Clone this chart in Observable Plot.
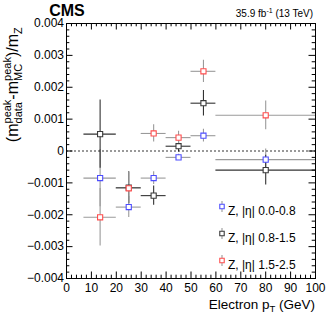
<!DOCTYPE html>
<html><head><meta charset="utf-8">
<script src="https://cdn.jsdelivr.net/npm/d3@7"></script>
<script src="https://cdn.jsdelivr.net/npm/@observablehq/plot@0.6"></script>
<style>body{margin:0;background:#fff} svg{display:block}</style>
</head><body><div id="chart"></div>
<script>
// ---- data ----
const binLo = [7, 20, 30, 40, 50, 60];
const binHi = [20, 30, 40, 50, 60, 100];
const binCenter = [13.5, 25, 35, 45, 55, 80];
const seriesNames = ["Z, |η| 0.0-0.8", "Z, |η| 0.8-1.5", "Z, |η| 1.5-2.5"];
const valEta0008 = [-0.00085, -0.00176, -0.00085, -0.0002, 0.00048, -0.00027];
const errEta0008 = [0.0009, 0.00033, 0.0002, 0.0001, 0.0002, 0.00033];
const valEta0815 = [0.00053, -0.00115, -0.0014, 0.00015, 0.0015, -0.0006];
const errEta0815 = [0.00107, 0.0005, 0.0003, 0.00018, 0.0004, 0.00047];
const valEta1525 = [-0.00208, -0.00117, 0.00055, 0.00042, 0.0025, 0.00112];
const errEta1525 = [0.0009, 0.0005, 0.00027, 0.0002, 0.00035, 0.00045];
const xTicks = [0, 10, 20, 30, 40, 50, 60, 70, 80, 90, 100];
const xTickLabels = ["0", "10", "20", "30", "40", "50", "60", "70", "80", "90", "100"];
const yTicks = [-0.004, -0.003, -0.002, -0.001, 0, 0.001, 0.002, 0.003, 0.004];
const yTickLabels = ["\u22120.004", "\u22120.003", "\u22120.002", "\u22120.001", "0", "0.001", "0.002", "0.003", "0.004"];

const markerColors = ["#4d4dff", "#3a3a3a", "#ff4d4d"];
const barColors = ["#9a9a9a", "#333333", "#9a9a9a"];

const W = 332, H = 322, mL = 66, mR = 17, mT = 23, mB = 44;
const xMin = 0, xMax = 100, yMin = -0.004, yMax = 0.004;
const gevPerPx = (xMax - xMin) / (W - mL - mR);
const unitPerPx = (yMax - yMin) / (H - mT - mB);

const vals = [valEta0008, valEta0815, valEta1525];
const errs = [errEta0008, errEta0815, errEta1525];
const rows = [];
vals.forEach((v, s) => v.forEach((y, i) => rows.push({
  s, x: binCenter[i], lo: binLo[i], hi: binHi[i], y, e: errs[s][i]
})));

const isMajor = (v, step) => Math.abs(v / step - Math.round(v / step)) < 1e-6;
const xMinor = d3.range(0, 100.001, 2).filter(v => !isMajor(v, 10));
const yMinor = d3.range(-0.004, 0.00400001, 0.0002).filter(v => !isMajor(v, 0.001));
const majL = 6.5, minL = 3.3;

const marks = [];
// error bars
[0, 1, 2].forEach(s => {
  const d = rows.filter(r => r.s === s);
  marks.push(Plot.ruleY(d, {y: "y", x1: "lo", x2: "hi", stroke: barColors[s], strokeWidth: 1.1}));
  marks.push(Plot.ruleX(d, {x: "x", y1: r => r.y - r.e, y2: r => r.y + r.e, stroke: barColors[s], strokeWidth: 1.1}));
});
// zero line
marks.push(Plot.ruleY([0], {stroke: "#000", strokeWidth: 0.8, strokeDasharray: "2,2"}));
// markers (gray first, then red, then blue)
[1, 2, 0].forEach(s => {
  marks.push(Plot.dot(rows.filter(r => r.s === s), {x: "x", y: "y", symbol: "square", r: 2.9, fill: "white", stroke: markerColors[s], strokeWidth: 1.1}));
});
// ticks (inward, all four sides)
marks.push(Plot.ruleX(xTicks, {x: d => d, y1: yMin, y2: yMin + majL * unitPerPx, stroke: "#000"}));
marks.push(Plot.ruleX(xTicks, {x: d => d, y1: yMax, y2: yMax - majL * unitPerPx, stroke: "#000"}));
marks.push(Plot.ruleX(xMinor, {x: d => d, y1: yMin, y2: yMin + minL * unitPerPx, stroke: "#000"}));
marks.push(Plot.ruleX(xMinor, {x: d => d, y1: yMax, y2: yMax - minL * unitPerPx, stroke: "#000"}));
marks.push(Plot.ruleY(yTicks, {y: d => d, x1: xMin, x2: xMin + majL * gevPerPx, stroke: "#000"}));
marks.push(Plot.ruleY(yTicks, {y: d => d, x1: xMax, x2: xMax - majL * gevPerPx, stroke: "#000"}));
marks.push(Plot.ruleY(yMinor, {y: d => d, x1: xMin, x2: xMin + minL * gevPerPx, stroke: "#000"}));
marks.push(Plot.ruleY(yMinor, {y: d => d, x1: xMax, x2: xMax - minL * gevPerPx, stroke: "#000"}));
marks.push(Plot.frame({stroke: "#000", strokeWidth: 1}));
// axes labels
marks.push(Plot.axisX(xTicks, {tickSize: 0, tickPadding: 5, label: null, fontSize: 12,
  tickFormat: d => xTickLabels[xTicks.indexOf(d)]}));
marks.push(Plot.axisY(yTicks, {tickSize: 0, tickPadding: 2.5, label: null, fontSize: 12,
  tickFormat: d => yTickLabels[yTicks.indexOf(d)]}));
// legend
const vbar = {draw(ctx, size) { ctx.moveTo(0, -5.5); ctx.lineTo(0, 5.5); }};
const legDx = 155.5, legDy0 = 183, legStep = 27;
seriesNames.forEach((name, s) => {
  const dy = legDy0 + s * legStep;
  marks.push(Plot.dot([name], {frameAnchor: "top-left", dx: legDx, dy, symbol: vbar, r: 4, stroke: "#9a9a9a", strokeWidth: 1.1, fill: "none"}));
  marks.push(Plot.dot([name], {frameAnchor: "top-left", dx: legDx, dy, symbol: "square", r: 2.5, fill: "white", stroke: markerColors[s], strokeWidth: 1.1}));
  marks.push(Plot.text([name], {frameAnchor: "top-left", dx: legDx + 6, dy, text: d => d, textAnchor: "start", fontSize: 12, fill: "#000"}));
});

const plot = Plot.plot({
  width: W, height: H,
  marginLeft: mL, marginRight: mR, marginTop: mT, marginBottom: mB,
  x: {domain: [xMin, xMax]},
  y: {domain: [yMin, yMax]},
  style: {fontFamily: "'Liberation Sans', Arial, Helvetica, sans-serif", fontSize: "12px", color: "#000", background: "#fff"},
  marks
});
document.getElementById("chart").append(plot);

const svg = d3.select(plot);
const FF = "'Liberation Sans', Arial, Helvetica, sans-serif";

// CMS
svg.append("text").attr("x", 67).attr("y", 16).attr("font-family", FF)
  .attr("font-size", 16).attr("font-weight", "bold").attr("fill", "#000").text("CMS");

// lumi text
const lumi = svg.append("text").attr("font-family", FF).attr("font-size", 10).attr("fill", "#000");
lumi.append("tspan").text("35.9 fb");
lumi.append("tspan").attr("font-size", 7).attr("dy", -4).text("-1");
lumi.append("tspan").attr("dy", 4).text(" (13 TeV)");
{
  const bb = lumi.node().getBBox();
  lumi.attr("transform", `translate(${313 - bb.x - bb.width},17)`);
}

// x label
const xl = svg.append("text").attr("font-family", FF).attr("font-size", 13.5).attr("fill", "#000");
xl.append("tspan").text("Electron p");
xl.append("tspan").attr("font-size", 9.5).attr("dy", 3.5).text("T");
xl.append("tspan").attr("dy", -3.5).text(" (GeV)");
{
  const bb = xl.node().getBBox();
  xl.attr("transform", `translate(${315 - bb.x - bb.width},308.5)`);
}

// y label
const yl = svg.append("text").attr("font-family", FF).attr("font-size", 16).attr("fill", "#000");
function stacked(sup, sub, after) {
  const t1 = yl.append("tspan").attr("font-size", 11).attr("dy", -7).text(sup);
  const w1 = t1.node().getComputedTextLength();
  const t2 = yl.append("tspan").attr("font-size", 11).attr("dx", -w1).attr("dy", 11).text(sub);
  const w2 = t2.node().getComputedTextLength();
  yl.append("tspan").attr("dx", Math.max(0, w1 - w2)).attr("dy", -4).text(after);
}
yl.append("tspan").text("(m");
stacked("peak", "data", "-m");
stacked("peak", "MC", ")/m");
yl.append("tspan").attr("font-size", 11).attr("dy", 4).text("Z");
{
  const bb = yl.node().getBBox();
  yl.attr("transform", `translate(17.5,${27 + bb.x + bb.width}) rotate(-90)`);
}
</script>
</body></html>
